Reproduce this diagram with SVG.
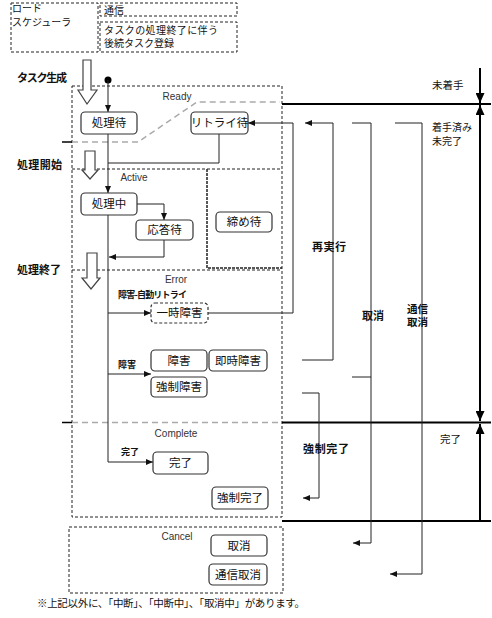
<svg xmlns="http://www.w3.org/2000/svg" width="492" height="618" viewBox="0 0 492 618">
<style>
text{font-family:"Noto Sans CJK JP","Liberation Sans",sans-serif;fill:#111}
.n{font-size:11.5px;text-anchor:middle}
.b{font-size:11px;font-weight:bold}
.s{font-size:9px;font-weight:bold}
.r{font-size:10.5px}
.lg{font-size:10px}
.lat{font-family:"Liberation Sans",sans-serif;font-size:10px;fill:#333;text-anchor:middle}
.box{fill:#fff;stroke:#333;stroke-width:1.2}
.dbox{fill:#fff;stroke:#333;stroke-width:1.2;stroke-dasharray:3,2}
.cont{fill:none;stroke:#222;stroke-width:1;stroke-dasharray:3,2}
.c{fill:none;stroke:#222;stroke-width:1}
.ca{fill:none;stroke:#222;stroke-width:1;marker-end:url(#ah)}
.hollow{fill:#fff;stroke:#444;stroke-width:1.2}
.thick{fill:none;stroke:#000;stroke-width:2}
</style>
<defs>
<marker id="ah" markerUnits="userSpaceOnUse" markerWidth="7" markerHeight="6" refX="7" refY="3" orient="auto"><path d="M0,0 L7,3 L0,6 Z" fill="#111"/></marker>
<marker id="big" markerUnits="userSpaceOnUse" markerWidth="10" markerHeight="9" refX="10" refY="4.5" orient="auto"><path d="M0,0 L10,4.5 L0,9 Z" fill="#000"/></marker>
<marker id="bigs" markerUnits="userSpaceOnUse" markerWidth="10" markerHeight="9" refX="0" refY="4.5" orient="auto"><path d="M10,0 L0,4.5 L10,9 Z" fill="#000"/></marker>
</defs>

<g id="legend">
<rect class="cont" x="11" y="3" width="87" height="49"/>
<text class="lg" x="12" y="12">ロード</text>
<text class="lg" x="12" y="25.5">スケジューラ</text>
<rect class="cont" x="100" y="3" width="137" height="13"/>
<text class="lg" x="104" y="14">通信</text>
<rect class="cont" x="100" y="22" width="137" height="30"/>
<text class="lg" x="104" y="33.5" textLength="114">タスクの処理終了に伴う</text>
<text class="lg" x="104" y="47">後続タスク登録</text>
</g>

<g id="containers">
<rect class="cont" x="72" y="86" width="210" height="431"/>
<line class="cont" x1="72" y1="169" x2="282" y2="169"/>
<line class="cont" x1="72" y1="270" x2="282" y2="270"/>
<path d="M207,169 V268 H282" fill="none" stroke="#222" stroke-width="1.5" stroke-dasharray="3,1"/>
<path d="M72,142 H138 L197,102 H280" fill="none" stroke="#aaa" stroke-width="1.5" stroke-dasharray="6,4"/>
<line x1="72" y1="422.5" x2="282" y2="422.5" stroke="#aaa" stroke-width="1.5" stroke-dasharray="6,4"/>
<rect class="cont" x="69" y="527" width="214" height="66"/>
<text class="lat" x="177" y="100">Ready</text>
<text class="lat" x="134" y="181">Active</text>
<text class="lat" x="176" y="283">Error</text>
<text class="lat" x="176" y="437">Complete</text>
<text class="lat" x="177" y="540">Cancel</text>
</g>

<g id="phases">
<polygon class="hollow" points="83,60 91,60 91,90 97,90 87,104 78,90 83,90"/>
<polygon class="hollow" points="85,151 95,151 95,170 98,170 90,179 82,170 85,170"/>
<polygon class="hollow" points="87,253 97,253 97,278 100,278 91,289 82,278 87,278"/>
<text class="b" x="17" y="82" textLength="50">タスク生成</text>
<text class="b" x="17" y="169" textLength="45">処理開始</text>
<text class="b" x="17" y="274" textLength="44">処理終了</text>
</g>

<g id="dividers">
<line x1="62" y1="142" x2="72" y2="142" stroke="#000" stroke-width="1.5"/>
<line x1="62" y1="422.5" x2="72" y2="422.5" stroke="#000" stroke-width="1.5"/>
<line class="thick" x1="282" y1="104" x2="491" y2="104"/>
<line class="thick" x1="282" y1="422.5" x2="491" y2="422.5"/>
<line class="thick" x1="282" y1="521" x2="491" y2="521"/>
<line class="thick" x1="480" y1="68" x2="480" y2="103" marker-end="url(#big)"/>
<line class="thick" x1="480" y1="105" x2="480" y2="421" marker-start="url(#bigs)" marker-end="url(#big)"/>
<line class="thick" x1="480" y1="521" x2="480" y2="424" marker-end="url(#big)"/>
<text class="r" x="432" y="89">未着手</text>
<text class="lg" x="432" y="131">着手済み</text>
<text class="lg" x="432" y="144.5">未完了</text>
<text class="r" x="440" y="443">完了</text>
</g>

<g id="connectors">
<circle cx="108" cy="80" r="3.5" fill="#000"/>
<path class="ca" d="M108,80 V112"/>
<path class="ca" d="M108,134 V193"/>
<path class="c" d="M219,134 V163 H108"/>
<path class="ca" d="M137,204 H164 V220"/>
<path class="ca" d="M164,240 V257 H109"/>
<path class="ca" d="M108,215 V462 H153"/>
<path class="ca" d="M108,313 H151"/>
<path class="ca" d="M108,374 H151"/>
<path class="ca" d="M208,313 H293 V123 H248"/>
<path class="ca" d="M302,360 H333 V123 H305"/>
<path class="ca" d="M352,123 H371 V543 H353"/>
<path class="c" d="M352,377 H371"/>
<path class="ca" d="M395,123 H422 V574 H390"/>
<path class="ca" d="M302,393 H319 V498 H303"/>
<text class="s" x="118" y="298" textLength="69">障害-自動リトライ</text>
<text class="s" x="118" y="368">障害</text>
<text class="s" x="121" y="455">完了</text>
<text class="b" x="312" y="251" textLength="34">再実行</text>
<text class="b" x="362" y="320">取消</text>
<text class="b" x="407" y="312.5" style="font-size:10.5px">通信</text>
<text class="b" x="407" y="326" style="font-size:10.5px">取消</text>
<text class="b" x="303" y="453" textLength="46">強制完了</text>
</g>

<g id="n-machi"><rect class="box" x="81" y="112" width="56" height="22" rx="4"/><text class="n" x="109" y="127">処理待</text></g>
<g id="n-retry"><rect class="box" x="191" y="112" width="57" height="22" rx="4"/><text class="n" x="219.5" y="127">リトライ待</text></g>
<g id="n-chu"><rect class="box" x="81" y="193" width="56" height="22" rx="4"/><text class="n" x="109" y="208">処理中</text></g>
<g id="n-outou"><rect class="box" x="136" y="220" width="57" height="20" rx="4"/><text class="n" x="164.5" y="234">応答待</text></g>
<g id="n-shime"><rect class="box" x="216" y="212" width="56" height="20" rx="4"/><text class="n" x="244" y="226">締め待</text></g>
<g id="n-ichiji"><rect class="dbox" x="151" y="303" width="57" height="20" rx="4"/><text class="n" x="179.5" y="317">一時障害</text></g>
<g id="n-shougai"><rect class="box" x="151" y="350" width="56" height="21" rx="4"/><text class="n" x="179" y="364.5">障害</text></g>
<g id="n-sokuji"><rect class="box" x="209" y="350" width="58" height="21" rx="4"/><text class="n" x="238" y="364.5">即時障害</text></g>
<g id="n-kyousei"><rect class="box" x="151" y="377" width="56" height="20" rx="4"/><text class="n" x="179" y="391">強制障害</text></g>
<g id="n-kanryo"><rect class="box" x="153" y="452" width="55" height="22" rx="4"/><text class="n" x="180.5" y="467">完了</text></g>
<g id="n-kyouseikanryo"><rect class="box" x="212" y="487" width="56" height="22" rx="4"/><text class="n" x="240" y="502">強制完了</text></g>
<g id="n-torikeshi"><rect class="box" x="211" y="535" width="56" height="21" rx="4"/><text class="n" x="239" y="549.5">取消</text></g>
<g id="n-tsushin"><rect class="box" x="209" y="564" width="58" height="21" rx="4"/><text class="n" x="238" y="578.5">通信取消</text></g>

<text class="r" x="37" y="607" textLength="268">※上記以外に、「中断」、「中断中」、「取消中」があります。</text>
</svg>
